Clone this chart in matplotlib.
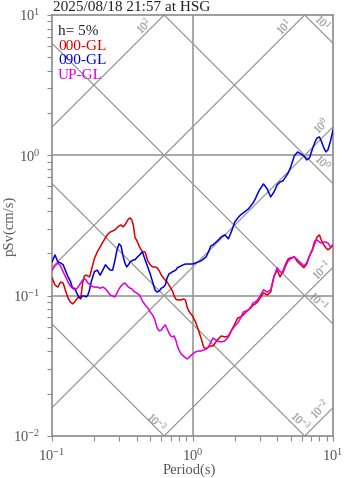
import numpy as np
import matplotlib
matplotlib.use("Agg")
import matplotlib.pyplot as plt

plt.rcParams['font.family'] = ['Liberation Serif', 'DejaVu Serif']
plt.rcParams['mathtext.fontset'] = 'custom'
plt.rcParams['mathtext.rm'] = 'Liberation Serif'
plt.rcParams['mathtext.it'] = 'Liberation Serif:italic'

# periods (s) shared by the three components
period = [0.100, 0.105, 0.110, 0.115, 0.120, 0.125, 0.130, 0.135, 0.140, 0.145,
          0.150, 0.155, 0.160, 0.165, 0.170, 0.175, 0.180, 0.185, 0.19, 0.20,
          0.21, 0.22, 0.23, 0.24, 0.25, 0.26, 0.27, 0.28, 0.29, 0.30,
          0.31, 0.32, 0.33, 0.34, 0.35, 0.36, 0.37, 0.38, 0.39, 0.40,
          0.42, 0.44, 0.46, 0.48, 0.50, 0.52, 0.54, 0.56, 0.58, 0.60,
          0.62, 0.64, 0.66, 0.68, 0.70, 0.72, 0.74, 0.76, 0.78, 0.80,
          0.83, 0.86, 0.89, 0.92, 0.95, 1.00, 1.05, 1.10, 1.15, 1.20,
          1.25, 1.30, 1.35, 1.40, 1.50, 1.60, 1.70, 1.80, 1.90, 2.00,
          2.1, 2.2, 2.3, 2.4, 2.5, 2.6, 2.7, 2.8, 2.9, 3.0,
          3.2, 3.4, 3.6, 3.8, 4.0, 4.2, 4.4, 4.6, 4.8, 5.0,
          5.3, 5.6, 5.9, 6.2, 6.5, 6.8, 7.1, 7.4, 7.7, 8.0,
          8.3, 8.6, 8.9, 9.2, 9.6, 10.0]

# pseudo velocity response (cm/s), h = 5%
sv_000 = [0.134, 0.119, 0.115, 0.125, 0.123, 0.108, 0.0963, 0.0902, 0.0873, 0.0902,
          0.0947, 0.0979, 0.0947, 0.123, 0.138, 0.140, 0.138, 0.136, 0.150, 0.183,
          0.205, 0.222, 0.241, 0.258, 0.275, 0.284, 0.289, 0.294, 0.304, 0.314,
          0.319, 0.309, 0.319, 0.335, 0.352, 0.358, 0.346, 0.314, 0.258, 0.249,
          0.222, 0.205, 0.205, 0.177, 0.166, 0.160, 0.160, 0.158, 0.150, 0.140,
          0.134, 0.129, 0.125, 0.119, 0.113, 0.108, 0.0995, 0.0947, 0.0932, 0.0932,
          0.0932, 0.0947, 0.0932, 0.0817, 0.0765, 0.0717, 0.0650, 0.0569, 0.0499, 0.0431,
          0.0417, 0.0431, 0.0438, 0.0438, 0.0483, 0.0516, 0.0508, 0.0516, 0.0569, 0.0629,
          0.0694, 0.0705, 0.0729, 0.0765, 0.0791, 0.0817, 0.0858, 0.0873, 0.0902, 0.0947,
          0.1045, 0.101, 0.106, 0.138, 0.152, 0.136, 0.150, 0.168, 0.183, 0.186,
          0.189, 0.174, 0.166, 0.158, 0.168, 0.192, 0.208, 0.234, 0.262, 0.271,
          0.245, 0.230, 0.219, 0.212, 0.219, 0.230]

sv_090 = [0.174, 0.195, 0.174, 0.171, 0.166, 0.150, 0.136, 0.127, 0.113, 0.113,
          0.1045, 0.0979, 0.0963, 0.0995, 0.0995, 0.0979, 0.101, 0.110, 0.125, 0.148,
          0.152, 0.140, 0.152, 0.166, 0.158, 0.152, 0.152, 0.177, 0.212, 0.234,
          0.226, 0.192, 0.171, 0.160, 0.166, 0.174, 0.177, 0.180, 0.180, 0.186,
          0.195, 0.205, 0.180, 0.160, 0.143, 0.125, 0.110, 0.106, 0.108, 0.113,
          0.115, 0.119, 0.134, 0.143, 0.145, 0.148, 0.150, 0.152, 0.158, 0.160,
          0.163, 0.166, 0.168, 0.168, 0.168, 0.168, 0.171, 0.174, 0.177, 0.183,
          0.189, 0.205, 0.226, 0.230, 0.245, 0.262, 0.271, 0.254, 0.289, 0.335,
          0.358, 0.376, 0.389, 0.402, 0.415, 0.436, 0.458, 0.489, 0.531, 0.567,
          0.625, 0.576, 0.505, 0.548, 0.615, 0.646, 0.657, 0.702, 0.749, 0.827,
          0.990, 1.057, 1.023, 0.990, 0.927, 0.958, 1.093, 1.226, 1.330, 1.352,
          1.246, 1.129, 1.057, 1.093, 1.266, 1.517]

sv_up = [0.152, 0.163, 0.171, 0.163, 0.148, 0.136, 0.125, 0.117, 0.113, 0.110,
         0.112, 0.117, 0.123, 0.129, 0.132, 0.129, 0.123, 0.121, 0.117, 0.115,
         0.115, 0.113, 0.115, 0.112, 0.106, 0.101, 0.0995, 0.0979, 0.1045, 0.112,
         0.117, 0.121, 0.123, 0.119, 0.115, 0.113, 0.112, 0.108, 0.106, 0.1045,
         0.101, 0.0917, 0.0858, 0.0817, 0.0765, 0.0729, 0.0671, 0.0589, 0.0560, 0.0569,
         0.0598, 0.0618, 0.0579, 0.0542, 0.0516, 0.0508, 0.0516, 0.0483, 0.0438, 0.0410,
         0.0384, 0.0372, 0.0360, 0.0354, 0.0366, 0.0384, 0.0397, 0.0403, 0.0403, 0.0410,
         0.0417, 0.0431, 0.0468, 0.0499, 0.0475, 0.0468, 0.0475, 0.0508, 0.0569, 0.0608,
         0.0639, 0.0694, 0.0765, 0.0778, 0.0791, 0.0831, 0.0887, 0.0902, 0.0932, 0.0979,
         0.110, 0.106, 0.110, 0.136, 0.158, 0.148, 0.145, 0.163, 0.177, 0.183,
         0.189, 0.180, 0.171, 0.163, 0.171, 0.192, 0.212, 0.245, 0.249, 0.241,
         0.237, 0.241, 0.241, 0.237, 0.222, 0.230]

components = ["000-GL", "090-GL", "UP-GL"]
colors = ["#dd0000", "#0000dd", "#dd00dd"]

# tripartite grid: displacement (cm) and acceleration (cm/s2) levels
sd_levels = [1e-3, 1e-2, 1e-1, 1e0, 1e1]
sa_levels = [1e-2, 1e-1, 1e0, 1e1, 1e2]

fig = plt.figure(figsize=(3.47, 4.78), dpi=100)
ax = fig.add_axes([0.1499, 0.0879, 0.8098, 0.8808])

tt = np.array([0.1, 10.0])
for sd in sd_levels:
    ax.plot(tt, 2 * np.pi * sd / tt, color="#8c8c8c", lw=0.8, zorder=1)
for sa in sa_levels:
    ax.plot(tt, sa * tt / (2 * np.pi), color="#8c8c8c", lw=0.8, zorder=1)

ax.axhline(1.0, color="#9a9a9a", lw=1.2, zorder=1)
ax.axhline(0.1, color="#9a9a9a", lw=1.2, zorder=1)
ax.axvline(1.0, color="#9a9a9a", lw=1.2, zorder=1)

# labels of the diagonal lines: (kind, level, period, text, offset px)
diag_labels = [
    ("a", 1e2, 0.452, r"$\mathregular{10^{2}}$", 9),
    ("a", 1e1, 4.48, r"$\mathregular{10^{1}}$", 9),
    ("a", 1e0, 8.35, r"$\mathregular{10^{0}}$", 12),
    ("a", 1e-1, 8.35, r"$\mathregular{10^{-1}}$", 8),
    ("a", 1e-2, 8.08, r"$\mathregular{10^{-2}}$", 11),
    ("d", 1e1, 8.35, r"$\mathregular{10^{1}}$", 10),
    ("d", 1e0, 8.35, r"$\mathregular{10^{0}}$", 10),
    ("d", 1e-1, 7.82, r"$\mathregular{10^{-1}}$", 8),
    ("d", 1e-2, 5.82, r"$\mathregular{10^{-3}}$", 10),
    ("d", 1e-3, 0.55, r"$\mathregular{10^{-3}}$", 6),
]
for kind, lev, tp, txt, off in diag_labels:
    if kind == "a":
        yv, rot = lev * tp / (2 * np.pi), 45
    else:
        yv, rot = 2 * np.pi * lev / tp, -45
    ax.annotate(txt, (tp, yv), xytext=(0, off), textcoords="offset pixels",
                rotation=rot, ha="center", va="center", fontsize=8.5,
                color="#808080", zorder=2)

for sv, c in zip([sv_000, sv_090, sv_up], colors):
    ax.plot(period, sv, color=c, lw=1.1, zorder=3)

ax.set_xscale("log")
ax.set_yscale("log")
ax.set_xlim(0.1, 10)
ax.set_ylim(0.01, 10)

for s in ax.spines.values():
    s.set_color("#8c8c8c")
    s.set_linewidth(1.2)
ax.tick_params(which="both", direction="out", color="#8c8c8c", labelcolor="#555555",
               labelsize=10.5, length=3.5, width=0.8, pad=5)
ax.set_xticks([0.1, 1, 10])
ax.set_xticklabels([r"$\mathregular{10^{-1}}$", r"$\mathregular{10^{0}}$", r"$\mathregular{10^{1}}$"])
ax.set_yticks([0.01, 0.1, 1, 10])
ax.set_yticklabels([r"$\mathregular{10^{-2}}$", r"$\mathregular{10^{-1}}$",
                    r"$\mathregular{10^{0}}$", r"$\mathregular{10^{1}}$"])
ax.set_xlabel("Period(s)", fontsize=10.5, color="#555555", va="center")
ax.xaxis.set_label_coords(0.49, -0.081)
ax.set_ylabel("pSv(cm/s)", fontsize=10.5, color="#555555", va="center")
ax.yaxis.set_label_coords(-0.148, 0.5)

ax.text(0.021, 0.9525, "h= 5%", transform=ax.transAxes, fontsize=11, color="#222222")
for i, (name, c) in enumerate(zip(components, colors)):
    ax.text(0.021, 0.9169 - i * 0.0345, name, transform=ax.transAxes,
            fontsize=11, color=c)

fig.text(0.153, 0.977, "2025/08/18 21:57 at HSG", fontsize=11, color="#222222")

fig.savefig("out.png", dpi=100)
